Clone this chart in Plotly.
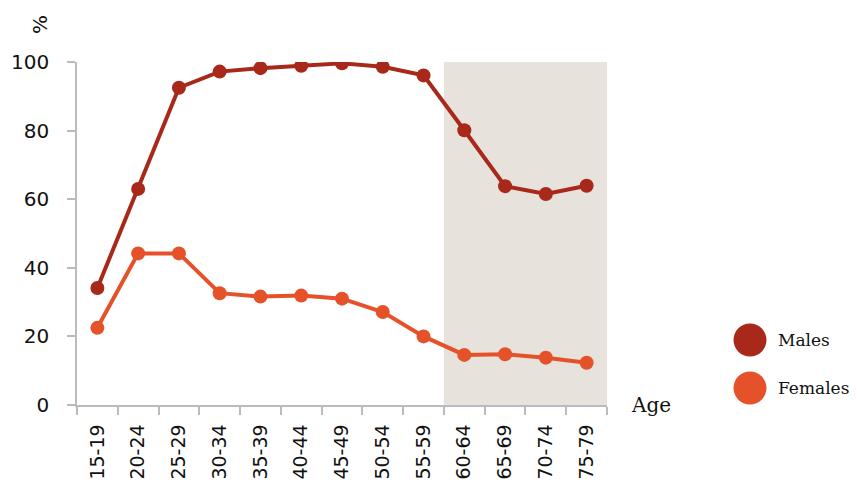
import plotly.graph_objects as go

ages = ["15-19", "20-24", "25-29", "30-34", "35-39", "40-44", "45-49",
        "50-54", "55-59", "60-64", "65-69", "70-74", "75-79"]
males = [34.1, 63.0, 92.5, 97.2, 98.2, 98.9, 99.6, 98.6, 96.1, 80.1, 63.8, 61.5, 63.9]
females = [22.5, 44.2, 44.2, 32.6, 31.6, 31.9, 31.0, 27.1, 20.0, 14.6, 14.8, 13.8, 12.3]
y_ticks = [0, 20, 40, 60, 80, 100]

male_color = "#A8281A"
female_color = "#E5522A"
shade_color = "#E7E2DB"

# page has an 8px body margin; positions below are in page pixels
OFF = 8
FW, FH = 857 - OFF, 483 - OFF
L, T, W, H = 77 - OFF, 62 - OFF, 530, 343

fig = go.Figure()
fig.add_trace(go.Scatter(x=ages, y=males, mode="lines+markers", name="Males",
                         line=dict(color=male_color, width=4),
                         marker=dict(color=male_color, size=14), showlegend=False))
fig.add_trace(go.Scatter(x=ages, y=females, mode="lines+markers", name="Females",
                         line=dict(color=female_color, width=4),
                         marker=dict(color=female_color, size=14), showlegend=False))

# shaded region (60-64 onward)
fig.add_shape(type="rect", xref="x", yref="y", x0=8.5, x1=12.5, y0=0, y1=100,
              fillcolor=shade_color, line=dict(width=0), layer="below")

def px2paper(px, py):
    return (px - OFF - L) / W, (T + H - (py - OFF)) / H

serif = "DejaVu Serif"
# manual legend
for name, color, cy in [("Males", male_color, 340), ("Females", female_color, 388)]:
    xa, ya = px2paper(750, cy)
    fig.add_shape(type="circle", xref="paper", yref="paper", xsizemode="pixel",
                  ysizemode="pixel", xanchor=xa, yanchor=ya, x0=-16.5, x1=16.5,
                  y0=-16.5, y1=16.5, fillcolor=color, line=dict(width=0))
    tx, _ = px2paper(776, cy)
    fig.add_annotation(text=name, xref="paper", yref="paper", x=tx, y=ya,
                       xanchor="left", yanchor="middle", showarrow=False,
                       font=dict(family=serif, size=17, color="#111"))

ax, ay = px2paper(629, 405)
fig.add_annotation(text="Age", xref="paper", yref="paper", x=ax, y=ay,
                   xanchor="left", yanchor="middle", showarrow=False,
                   font=dict(family=serif, size=20, color="#111"))
pxp, pyp = px2paper(40, 25)
fig.add_annotation(text="%", xref="paper", yref="paper", x=pxp, y=pyp,
                   xanchor="center", yanchor="middle",
                   textangle=-90, showarrow=False,
                   font=dict(family="DejaVu Sans", size=20, color="#111"))

fig.update_xaxes(type="category", range=[-0.5, 12.5], tickson="boundaries",
                 ticks="outside", ticklen=8, tickcolor="#bbb", tickwidth=1.5,
                 showline=True, linecolor="#bbb", linewidth=1.5, showgrid=False,
                 tickangle=-90, ticklabelstandoff=10, automargin=False,
                 tickfont=dict(family="DejaVu Sans", size=19, color="#111"),
                 zeroline=False)
fig.update_yaxes(range=[0, 100], tickvals=y_ticks, ticks="outside", ticklen=8,
                 tickcolor="#bbb", tickwidth=1.5, showline=True, linecolor="#bbb",
                 linewidth=1.5, showgrid=False, zeroline=False, ticklabelstandoff=14,
                 automargin=False,
                 tickfont=dict(family="DejaVu Sans", size=20, color="#111"))

fig.update_layout(width=FW, height=FH, margin=dict(l=L, r=FW - L - W, t=T, b=FH - T - H),
                  plot_bgcolor="white", paper_bgcolor="white")

fig.write_html("out.html")
